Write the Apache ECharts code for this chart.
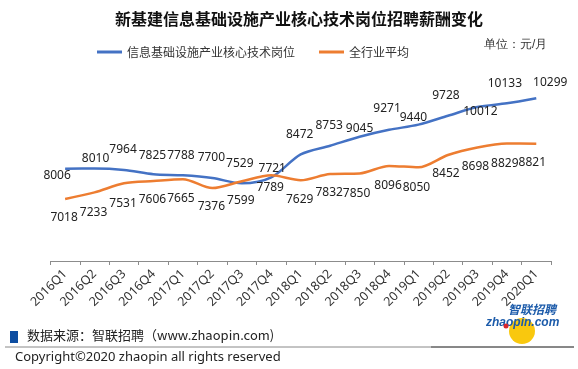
<!DOCTYPE html>
<html>
<head>
<meta charset="utf-8">
<script src="https://cdn.jsdelivr.net/npm/echarts@6/dist/echarts.min.js"></script>
<style>
html,body{margin:0;padding:0;background:#fff;}
#chart{width:578px;height:369px;}
</style>
</head>
<body>
<div id="chart"></div>
<script>
var categories = ['2016Q1','2016Q2','2016Q3','2016Q4','2017Q1','2017Q2','2017Q3','2017Q4','2018Q1','2018Q2','2018Q3','2018Q4','2019Q1','2019Q2','2019Q3','2019Q4','2020Q1'];
var coreJobSalary = [8006,8010,7964,7825,7788,7700,7529,7721,8472,8753,9045,9271,9440,9728,10012,10133,10299];
var industryAvgSalary = [7018,7233,7531,7606,7665,7376,7599,7789,7629,7832,7850,8096,8050,8452,8698,8829,8821];
var seriesNames = ['信息基础设施产业核心技术岗位','全行业平均'];

// label placement (layout only)
var coreLabelOffset = [[-8,7],[1,-10],[-1,-20],[-1,-19],[-2,-20],[-1,-20],[-2,-20],[1,-9],[-1,-20],[-1,-20],[0,-8],[-2,-21],[-5,-7],[-2,-20],[3,5],[-2,-20],[14,-16]];
var avgLabelOffset = [[-1,19],[-1,20],[-1,20],[-1,19],[-2,19],[-1,19],[-1,19],[-1,12],[-1,19],[-1,19],[-3,20],[-1,20],[-2,20],[-2,19],[-2,19],[-2,20],[-4,19]];

var FONT = '"Noto Sans CJK SC","Noto Sans",sans-serif';

function buildData(vals, offs){
  return vals.map(function(v,i){
    return {value:v, label:{offset:offs[i]}};
  });
}

var chart = echarts.init(document.getElementById('chart'), null, {renderer:'canvas'});
chart.setOption({
  animation:false,
  backgroundColor:'#fff',
  textStyle:{fontFamily:FONT},
  title:{
    text:'新基建信息基础设施产业核心技术岗位招聘薪酬变化',
    left:294, top:6, textAlign:'center',
    textStyle:{fontSize:16, fontWeight:'bold', color:'#111', fontFamily:FONT}
  },
  legend:{
    left:92, top:41,
    itemWidth:25, itemHeight:3, itemGap:24,
    icon:'rect',
    data:seriesNames,
    textStyle:{fontSize:12, color:'#333', fontFamily:FONT}
  },
  grid:{left:50.4, right:27, top:46, bottom:108, containLabel:false},
  xAxis:{
    type:'category',
    data:categories,
    boundaryGap:true,
    axisLine:{lineStyle:{color:'#8c8c8c', width:1}},
    axisTick:{show:true, length:4, interval:0, lineStyle:{color:'#8c8c8c'}},
    axisLabel:{interval:0, rotate:45, margin:11, fontSize:12.5, color:'#333', fontFamily:'"Noto Sans",sans-serif'}
  },
  yAxis:{
    type:'value', min:5000, max:12000, show:false,
    splitLine:{show:false}
  },
  series:[
    {
      name:seriesNames[0], type:'line', smooth:0.3,
      data:buildData(coreJobSalary, coreLabelOffset),
      symbol:'circle', symbolSize:0.1, showSymbol:true,
      itemStyle:{color:'#4472C4'},
      lineStyle:{color:'#4472C4', width:2.5},
      label:{show:true, position:'inside', fontSize:12, color:'#222', fontFamily:'"Noto Sans",sans-serif'}
    },
    {
      name:seriesNames[1], type:'line', smooth:0.3,
      data:buildData(industryAvgSalary, avgLabelOffset),
      symbol:'circle', symbolSize:0.1, showSymbol:true,
      itemStyle:{color:'#ED7D31'},
      lineStyle:{color:'#ED7D31', width:2.5},
      label:{show:true, position:'inside', fontSize:12, color:'#222', fontFamily:'"Noto Sans",sans-serif'}
    }
  ],
  graphic:[
    {type:'text', left:484, top:39, style:{text:'单位：元/月', fontSize:12, fill:'#333', font:'12px '+FONT}},
    {type:'rect', shape:{x:10, y:331, width:8, height:12}, style:{fill:'#0D4DA1'}},
    {type:'text', left:27, top:329, style:{text:'数据来源：智联招聘（www.zhaopin.com)', fill:'#222', font:'13px '+FONT}},
    {type:'line', shape:{x1:5, y1:347, x2:431, y2:347}, style:{stroke:'#888', lineWidth:1}},
    {type:'line', shape:{x1:431, y1:347, x2:574, y2:347}, style:{stroke:'#111', lineWidth:1}},
    {type:'text', left:15, top:351, style:{text:'Copyright©2020 zhaopin all rights reserved', fill:'#222', font:'13px "Noto Sans",sans-serif'}},
    // logo
    {type:'circle', shape:{cx:522, cy:331, r:13}, style:{fill:'#F9C80E'}},
    {type:'text', left:508, top:303, style:{text:'智联招聘', fill:'#1C5BAA', font:'italic bold 12px '+FONT}},
    {type:'text', left:486, top:317, style:{text:'zhaopin.com', fill:'#1C5BAA', font:'italic bold 12px "Liberation Sans",sans-serif'}},
    {type:'circle', shape:{cx:506, cy:326, r:2.5}, style:{fill:'#D9262C'}}
  ]
});
</script>
</body>
</html>
